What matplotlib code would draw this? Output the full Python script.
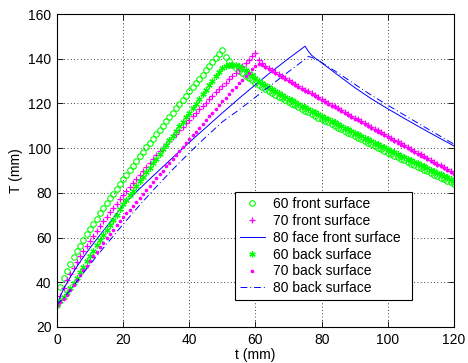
import numpy as np
import matplotlib
matplotlib.use("Agg")
import matplotlib.pyplot as plt

plt.rcParams['font.family'] = ['Liberation Sans', 'DejaVu Sans']
plt.rcParams['font.size'] = 10

# sample times (s) for the marker series
t_mark = list(range(0, 121))

# 60 front surface
front_60 = [30.0, 37.7, 41.7, 45.1, 48.2, 51.1, 53.8, 56.4, 59.0, 61.5,
            63.9, 66.2, 68.5, 70.8, 73.1, 75.3, 77.5, 79.6, 81.8, 83.9,
            86.0, 88.1, 90.2, 92.2, 94.3, 96.3, 98.3, 100.3, 102.3, 104.3,
            106.2, 108.2, 110.1, 112.1, 114.0, 115.9, 117.8, 119.8, 121.7, 123.5,
            125.4, 127.3, 129.2, 131.1, 132.9, 134.8, 136.6, 138.5, 140.3, 142.2,
            144.0,
            140.6, 138.9, 137.4, 136.0, 134.6, 133.4, 132.3, 131.3, 130.3, 129.3,
            128.4, 127.5, 126.6, 125.7, 124.8, 123.9, 123.1, 122.3, 121.5, 120.7,
            119.9, 119.1, 118.3, 117.5, 116.7, 116.0, 115.2, 114.5, 113.7, 113.0,
            112.2, 111.5, 110.7, 110.0, 109.2, 108.4, 107.7, 106.9, 106.2, 105.4,
            104.7, 103.9, 103.2, 102.4, 101.7, 101.0, 100.2, 99.5, 98.8, 98.0,
            97.3, 96.6, 95.9, 95.2, 94.5, 93.8, 93.1, 92.4, 91.7, 91.0,
            90.3, 89.6, 88.9, 88.2, 87.5, 86.8, 86.1, 85.4, 84.7, 84.0]

# 70 front surface
front_70 = [30.0, 34.0, 37.5, 40.8, 43.8, 46.5, 49.1, 51.6, 54.0, 56.3,
            58.5, 60.8, 63.0, 65.1, 67.2, 69.3, 71.3, 73.3, 75.2, 77.1,
            79.0, 80.9, 82.8, 84.6, 86.4, 88.2, 90.0, 91.7, 93.5, 95.2,
            96.9, 98.5, 100.1, 101.7, 103.3, 104.9, 106.5, 108.0, 109.6, 111.1,
            112.7, 114.2, 115.8, 117.3, 118.8, 120.3, 121.8, 123.4, 124.9, 126.4,
            127.8, 129.3, 130.8, 132.3, 133.8, 135.2, 136.7, 138.2, 139.6, 141.1,
            142.5,
            139.6, 137.9, 136.8, 135.9, 135.0, 134.1, 133.2, 132.3, 131.4, 130.5,
            129.6, 128.8, 127.9, 127.1, 126.2, 125.4, 124.5, 123.7, 122.8, 122.0,
            121.2, 120.3, 119.5, 118.7, 117.9, 117.0, 116.2, 115.4, 114.5, 113.7,
            112.9, 112.1, 111.2, 110.4, 109.6, 108.7, 107.9, 107.1, 106.3, 105.4,
            104.6, 103.8, 103.0, 102.1, 101.3, 100.5, 99.7, 98.9, 98.0, 97.2,
            96.4, 95.6, 94.8, 94.0, 93.1, 92.3, 91.5, 90.7, 89.9, 89.1]

# 60 back surface
back_60 = [30.0, 31.5, 33.2, 35.1, 37.3, 39.6, 42.0, 44.4, 46.9, 49.3,
           51.7, 54.1, 56.5, 58.8, 61.1, 63.4, 65.7, 68.0, 70.3, 72.6,
           75.0, 77.0, 79.0, 81.0, 83.1, 85.1, 87.1, 89.2, 91.2, 93.3,
           95.3, 97.4, 99.4, 101.5, 103.5, 105.6, 107.6, 109.7, 111.7, 113.8,
           115.8, 117.9, 119.9, 122.0, 124.0, 126.1, 128.1, 130.1, 132.1, 134.0,
           135.7,
           136.8, 137.3, 137.4, 137.2, 136.7, 135.9, 134.9, 133.7, 132.5, 131.3,
           130.2, 129.2, 128.2, 127.2, 126.3, 125.4, 124.6, 123.8, 123.0, 122.2,
           121.4, 120.6, 119.8, 119.0, 118.2, 117.5, 116.7, 116.0, 115.2, 114.5,
           113.7, 113.0, 112.2, 111.5, 110.7, 109.9, 109.2, 108.4, 107.7, 106.9,
           106.2, 105.4, 104.7, 103.9, 103.2, 102.5, 101.7, 101.0, 100.3, 99.5,
           98.8, 98.1, 97.4, 96.7, 96.0, 95.3, 94.6, 93.9, 93.2, 92.5,
           91.8, 91.1, 90.4, 89.7, 89.0, 88.3, 87.6, 86.9, 86.2, 85.5]

# 70 back surface
back_70 = [30.0, 31.2, 32.7, 34.4, 36.5, 38.7, 40.9, 43.1, 45.3, 47.4,
           49.5, 51.6, 53.7, 55.7, 57.7, 59.7, 61.6, 63.5, 65.4, 67.2,
           69.0, 70.8, 72.5, 74.3, 76.0, 77.8, 79.5, 81.3, 83.0, 84.8,
           86.5, 88.3, 90.0, 91.8, 93.5, 95.3, 97.0, 98.8, 100.5, 102.3,
           104.0, 105.7, 107.4, 109.1, 110.8, 112.5, 114.2, 115.9, 117.6, 119.2,
           120.9, 122.5, 124.2, 125.8, 127.4, 129.0, 130.6, 132.2, 133.8, 135.4,
           136.9,
           137.7, 137.4, 136.5, 135.5, 134.5, 133.6, 132.7, 131.8, 130.9, 130.0,
           129.1, 128.3, 127.4, 126.6, 125.7, 124.9, 124.0, 123.2, 122.3, 121.5,
           120.7, 119.8, 119.0, 118.2, 117.4, 116.5, 115.7, 114.9, 114.0, 113.2,
           112.4, 111.6, 110.7, 109.9, 109.1, 108.2, 107.4, 106.6, 105.8, 104.9,
           104.1, 103.3, 102.5, 101.6, 100.8, 100.0, 99.2, 98.4, 97.5, 96.7,
           95.9, 95.1, 94.3, 93.5, 92.6, 91.8, 91.0, 90.2, 89.4, 88.6]

# 80 series (drawn as lines)
t_front_80 = [0, 1, 2, 4, 6, 8, 10, 12, 15, 20, 25, 30, 35, 40, 45, 50, 55, 60,
              65, 70, 75, 76, 77, 78, 80, 85, 90, 95, 100, 105, 110, 115, 120]
front_80 = [30.0, 33.8, 37.0, 42.3, 47.0, 51.3, 55.4, 59.3, 64.9, 74.6, 81.9,
            88.9, 95.8, 102.6, 109.2, 115.8, 122.2, 128.4, 134.4, 140.1, 145.6,
            143.3, 141.5, 140.3, 138.2, 132.6, 127.1, 122.1, 117.6, 113.3, 109.1,
            105.0, 101.0]

t_back_80 = [0, 2, 4, 6, 8, 10, 12, 15, 20, 25, 30, 35, 40, 45, 50, 55, 60, 65,
             70, 75, 76, 77, 78, 80, 85, 90, 95, 100, 105, 110, 115, 120]
back_80 = [30.0, 33.0, 36.6, 40.4, 44.2, 48.0, 51.7, 57.1, 66.0, 74.5, 82.7,
           90.5, 97.9, 105.0, 111.8, 117.1, 122.8, 128.5, 134.2, 139.8, 141.0,
           140.6, 139.9, 138.3, 133.6, 128.6, 123.7, 119.2, 114.8, 110.4, 106.1,
           101.8]

labels = ['60 front surface', '70 front surface', '80 face front surface',
          '60 back surface', '70 back surface', '80 back surface']

x_ticks = [0, 20, 40, 60, 80, 100, 120]
y_ticks = [20, 40, 60, 80, 100, 120, 140, 160]

GREEN = '#00ff00'
MAGENTA = '#ff00ff'
BLUE = '#0000ff'

fig = plt.figure(figsize=(4.68, 3.63), dpi=100)
ax = fig.add_axes([0.1218, 0.0992, 0.8482, 0.8622])

ax.plot(t_mark, front_60, linestyle='none', marker='o', ms=4.0, mfc='none',
        mec=GREEN, mew=0.8, label=labels[0])
ax.plot(t_mark, front_70, linestyle='none', marker='+', ms=5.0,
        mec=MAGENTA, mew=0.9, label=labels[1])
ax.plot(t_front_80, front_80, linestyle='-', color=BLUE, lw=0.7, label=labels[2])
ax.plot(t_mark, back_60, linestyle='none', marker=(6, 2, 0), ms=4.5,
        mec=GREEN, mew=0.9, label=labels[3])
ax.plot(t_mark, back_70, linestyle='none', marker='.', ms=3.2,
        mec=MAGENTA, mfc=MAGENTA, label=labels[4])
ax.plot(t_back_80, back_80, linestyle='-.', color=BLUE, lw=0.7,
        dashes=(7, 3, 1, 3), label=labels[5])

ax.set_xlim(0, 120)
ax.set_ylim(20, 160)
ax.set_xticks(x_ticks)
ax.set_yticks(y_ticks)
ax.tick_params(direction='in', length=4, width=0.6, top=True, right=True,
               labelsize=10, pad=4)
ax.grid(True, color='black', linestyle=(0, (1, 3)), linewidth=0.6)
for s in ax.spines.values():
    s.set_linewidth(0.8)

ax.set_xlabel('t (mm)', fontsize=10, labelpad=1)
ax.set_ylabel('T (mm)', fontsize=10, labelpad=4)

leg = ax.legend(loc='lower left', bbox_to_anchor=(0.448, 0.086, 0.446, 0.467),
                mode='expand', numpoints=1, fontsize=10, labelspacing=0.2,
                handlelength=1.8, handletextpad=0.6, borderpad=0.35,
                borderaxespad=0.0, fancybox=False, framealpha=1.0,
                edgecolor='black')
leg.get_frame().set_linewidth(0.8)

fig.savefig('out.png', dpi=100)
